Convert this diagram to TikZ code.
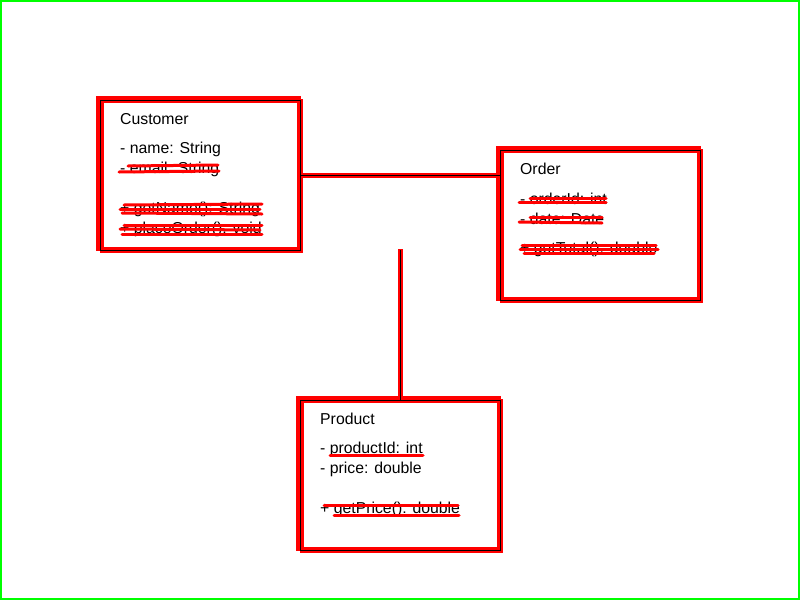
\documentclass[tikz,border=0pt]{standalone}
\usepackage{fontspec}
\setmainfont{Liberation Sans}
\begin{document}
\begin{tikzpicture}[x=1pt,y=-1pt,
  umlbox/.style={draw=black,line width=1pt,minimum width=200pt,minimum height=150pt,inner sep=0pt,anchor=north west},
  redbox/.style={draw=red,line width=3.5pt},
  txt/.style={anchor=west,inner sep=0pt,font=\fontsize{15.8}{18}\selectfont},
  scrib/.style={draw=red,line width=3pt,line cap=round},
  conn/.style={draw=black,line width=1pt}]
\useasboundingbox (0,0) rectangle (800,600);
\draw[draw={rgb,255:red,0;green,255;blue,0},line width=2.5pt] (1,1) rectangle (799,599);
% red sketch outlines
\draw[redbox] (98,98) rectangle (299,249);
\draw[redbox] (102,101) rectangle (301,251);
\draw[redbox] (498,148) rectangle (699,299);
\draw[redbox] (502,151) rectangle (701,301);
\draw[redbox] (298,398) rectangle (499,549);
\draw[redbox] (302,401) rectangle (501,551);
% red over connectors
\draw[red,line width=5pt] (300,175) -- (500,175);
\draw[red,line width=5pt] (400,249) -- (400,400);
% boxes
\node[umlbox] (cust) at (100,100) {};
\node[umlbox] (ord) at (500,150) {};
\node[umlbox] (prod) at (300,400) {};
\coordinate (free) at (400,250);
% connectors
\draw[conn] (cust.east |- 0,175) -- (ord.west |- 0,175);
\draw[conn] (free) -- (free |- prod.north);
% texts
\node[txt] (c0) at (120,119) {Customer};
\node[txt] (c1) at (120,149) {- name: String};
\node[txt] (c2) at (120,169) {- email: String};
\node[txt] (c3) at (120,209) {+ getName(): String};
\node[txt] (c4) at (120,229) {+ placeOrder(): void};
\node[txt] (o0) at (520,169) {Order};
\node[txt] (o1) at (520,199) {- orderId: int};
\node[txt] (o2) at (520,219) {- date: Date};
\node[txt] (o3) at (520,249) {+ getTotal(): double};
\node[txt] (p0) at (320,419) {Product};
\node[txt] (p1) at (320,449) {- productId: int};
\node[txt] (p2) at (320,469) {- price: double};
\node[txt] (p3) at (320,509) {+ getPrice(): double};
% red scribbles over text
\draw[scrib] (128,166) -- (218,165);
\draw[scrib] (119,172) -- (219,171);
\draw[scrib] (124,205) -- (262,204);
\draw[scrib] (120,209) -- (260,209);
\draw[scrib] (122,213) -- (262,214);
\draw[scrib] (124,225) -- (262,225);
\draw[scrib] (120,229) -- (260,230);
\draw[scrib] (122,234) -- (262,234);
\draw[scrib] (530,198) -- (606,198);
\draw[scrib] (519,202) -- (606,202);
\draw[scrib] (530,217) -- (602,217);
\draw[scrib] (519,222) -- (602,223);
\draw[scrib] (522,245) -- (656,245);
\draw[scrib] (520,249) -- (658,249);
\draw[scrib] (524,253) -- (654,253);
\draw[scrib] (330,455) -- (423,455);
\draw[scrib] (324,505) -- (458,505);
\draw[scrib] (334,515) -- (459,515);
\end{tikzpicture}
\end{document}
